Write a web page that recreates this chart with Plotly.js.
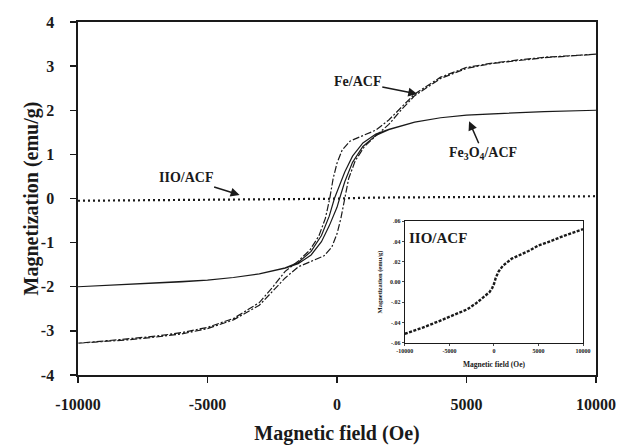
<!DOCTYPE html>
<html>
<head>
<meta charset="utf-8">
<script src="https://cdn.plot.ly/plotly-3.0.1.min.js"></script>
<style>html,body{margin:0;padding:0;background:#fff;}#chart{width:624px;height:448px;}</style>
</head>
<body>
<div id="chart"></div>
<script>
// Fe3O4/ACF loop (solid)
var fe3o4H_desc = [10000, 8000, 6000, 5000, 4000, 3000, 2000, 1500, 1000, 600, 300, 0, -100, -300, -600, -1000, -1500, -2000, -3000, -4000, -5000, -6000, -8000, -10000];
var fe3o4M_desc = [2.00, 1.97, 1.92, 1.89, 1.83, 1.73, 1.57, 1.46, 1.26, 0.96, 0.60, 0.18, 0.00, -0.40, -0.84, -1.20, -1.45, -1.57, -1.71, -1.79, -1.85, -1.89, -1.95, -2.00];
var fe3o4H_asc = [-10000, -8000, -6000, -5000, -4000, -3000, -2000, -1500, -1000, -600, -300, 0, 100, 300, 600, 1000, 1500, 2000, 3000, 4000, 5000, 6000, 8000, 10000];
var fe3o4M_asc = [-2.00, -1.95, -1.89, -1.85, -1.79, -1.71, -1.58, -1.48, -1.28, -0.98, -0.62, -0.20, 0.00, 0.38, 0.82, 1.18, 1.43, 1.56, 1.73, 1.83, 1.89, 1.92, 1.97, 2.00];

// Fe/ACF loop (dashed)
var feH_desc = [10000, 9000, 8000, 7000, 6000, 5000, 4000, 3000, 2500, 2000, 1500, 1000, 500, 200, 0, -150, -280, -450, -700, -1050, -1500, -2000, -2500, -3000, -4000, -5000, -6000, -7000, -8000, -9000, -10000];
var feM_desc = [3.27, 3.24, 3.20, 3.14, 3.07, 2.97, 2.75, 2.37, 2.08, 1.78, 1.55, 1.42, 1.30, 1.10, 0.80, 0.45, 0.00, -0.45, -0.85, -1.17, -1.42, -1.65, -2.02, -2.36, -2.72, -2.92, -3.04, -3.12, -3.18, -3.23, -3.28];
var feH_asc = [-10000, -9000, -8000, -7000, -6000, -5000, -4000, -3000, -2500, -2000, -1500, -1000, -500, -200, 0, 150, 290, 450, 700, 1050, 1500, 2000, 2500, 3000, 4000, 5000, 6000, 7000, 8000, 9000, 10000];
var feM_asc = [-3.28, -3.24, -3.20, -3.14, -3.07, -2.95, -2.75, -2.42, -2.12, -1.80, -1.55, -1.42, -1.30, -1.10, -0.80, -0.45, 0.00, 0.45, 0.85, 1.17, 1.42, 1.68, 2.02, 2.33, 2.72, 2.95, 3.06, 3.13, 3.19, 3.23, 3.27];

// IIO/ACF (dotted, main and inset)
var iioH = [-10000, -8000, -6000, -4000, -3000, -2000, -1000, -500, -200, 0, 200, 500, 1000, 2000, 3000, 4000, 5000, 6000, 8000, 10000];
var iioM = [-0.051, -0.045, -0.038, -0.031, -0.027, -0.021, -0.014, -0.010, -0.006, -0.002, 0.004, 0.010, 0.016, 0.023, 0.027, 0.031, 0.036, 0.039, 0.046, 0.052];

var mainYTicks = [-4, -3, -2, -1, 0, 1, 2, 3, 4];
var mainXTicks = [-10000, -5000, 0, 5000, 10000];
var insetYTicks = [-0.06, -0.04, -0.02, 0, 0.02, 0.04, 0.06];
var insetYLabels = ["-.06", "-.04", "-.02", "0.00", ".02", ".04", ".06"];

var SERIF = "Liberation Serif, Times New Roman, serif";
var INK = "#1a1a1a";

var traces = [
  {x: fe3o4H_desc.concat(fe3o4H_asc), y: fe3o4M_desc.concat(fe3o4M_asc), mode: "lines",
   line: {color: INK, width: 1.2}, xaxis: "x", yaxis: "y", name: "Fe3O4/ACF"},
  {x: feH_desc.concat(feH_asc), y: feM_desc.concat(feM_asc), mode: "lines",
   line: {color: INK, width: 1.2, dash: "7px,2px,2px,2px"}, xaxis: "x", yaxis: "y", name: "Fe/ACF"},
  {x: iioH, y: iioM, mode: "lines", line: {color: INK, width: 2.2, dash: "2px,3px"},
   xaxis: "x", yaxis: "y", name: "IIO/ACF"},
  {x: iioH, y: iioM, mode: "lines", line: {color: INK, width: 2.4, dash: "3px,1.5px"},
   xaxis: "x2", yaxis: "y2", name: "IIO/ACF inset"}
];

var layout = {
  width: 624, height: 448,
  margin: {l: 78, r: 28, t: 22, b: 73},
  paper_bgcolor: "#fff", plot_bgcolor: "#fff",
  showlegend: false,
  font: {family: SERIF, color: INK},
  xaxis: {
    range: [-10000, 10000], tickvals: mainXTicks, ticktext: mainXTicks.map(String),
    showgrid: false, zeroline: false, showline: true, mirror: true, linecolor: INK, linewidth: 1.6,
    ticks: "outside", ticklen: 6, tickwidth: 1.4, tickcolor: INK, ticklabelstandoff: 8,
    tickfont: {family: SERIF, size: 16, color: INK, weight: "bold"},
    title: {text: "<b>Magnetic field (Oe)</b>", font: {family: SERIF, size: 20, color: INK}, standoff: 14}
  },
  yaxis: {
    range: [-4, 4], tickvals: mainYTicks, ticktext: mainYTicks.map(String),
    showgrid: false, zeroline: false, showline: true, mirror: true, linecolor: INK, linewidth: 1.6,
    ticks: "outside", ticklen: 6, tickwidth: 1.4, tickcolor: INK, ticklabelstandoff: 13,
    tickfont: {family: SERIF, size: 16, color: INK, weight: "bold"}
  },
  xaxis2: {
    domain: [0.631, 0.975], anchor: "y2", range: [-10000, 10000],
    tickvals: mainXTicks, ticktext: mainXTicks.map(String),
    showgrid: false, zeroline: false, showline: true, mirror: true, linecolor: INK, linewidth: 1.1,
    ticks: "outside", ticklen: 2, tickwidth: 0.8, tickcolor: INK,
    tickfont: {family: SERIF, size: 6, color: INK, weight: "bold"},
    title: {text: "<b>Magnetic field (Oe)</b>", font: {family: SERIF, size: 7.5, color: INK}, standoff: 8}
  },
  yaxis2: {
    domain: [0.091, 0.436], anchor: "x2", range: [-0.06, 0.06],
    tickvals: insetYTicks, ticktext: insetYLabels,
    showgrid: false, zeroline: false, showline: true, mirror: true, linecolor: INK, linewidth: 1.1,
    ticks: "outside", ticklen: 2, tickwidth: 0.8, tickcolor: INK,
    tickfont: {family: SERIF, size: 6, color: INK, weight: "bold"},
    title: {text: "<b>Magnetization (emu/g)</b>", font: {family: SERIF, size: 6.5, color: INK}, standoff: 6}
  },
  annotations: [
    {xref: "paper", yref: "paper", x: -0.089, y: 0.5, xanchor: "center", yanchor: "middle",
     textangle: -90, showarrow: false,
     text: "<b>Magnetization (emu/g)</b>", font: {family: SERIF, size: 20, color: INK}},
    {xref: "x", yref: "y", x: 3100, y: 2.37, ax: -60, ay: -12,
     text: "<b>Fe/ACF</b>", showarrow: true, arrowhead: 2, arrowsize: 1.2, arrowwidth: 1.5, arrowcolor: INK,
     font: {family: SERIF, size: 14, color: INK}},
    {xref: "x", yref: "y", x: 5100, y: 1.75, ax: 14, ay: 32,
     text: "<b>Fe<sub>3</sub>O<sub>4</sub>/ACF</b>", showarrow: true, arrowhead: 2, arrowsize: 1.2, arrowwidth: 1.5, arrowcolor: INK,
     font: {family: SERIF, size: 14, color: INK}},
    {xref: "x", yref: "y", x: -3760, y: 0.08, ax: -54, ay: -17,
     text: "<b>IIO/ACF</b>", showarrow: true, arrowhead: 2, arrowsize: 1.2, arrowwidth: 1.5, arrowcolor: INK,
     font: {family: SERIF, size: 14, color: INK}},
    {xref: "x2 domain", yref: "y2 domain", x: 0.01, y: 0.86, xanchor: "left", yanchor: "middle",
     text: "<b>IIO/ACF</b>", showarrow: false, font: {family: SERIF, size: 15, color: INK}}
  ]
};

Plotly.newPlot("chart", traces, layout, {displayModeBar: false, staticPlot: true});
</script>
</body>
</html>
